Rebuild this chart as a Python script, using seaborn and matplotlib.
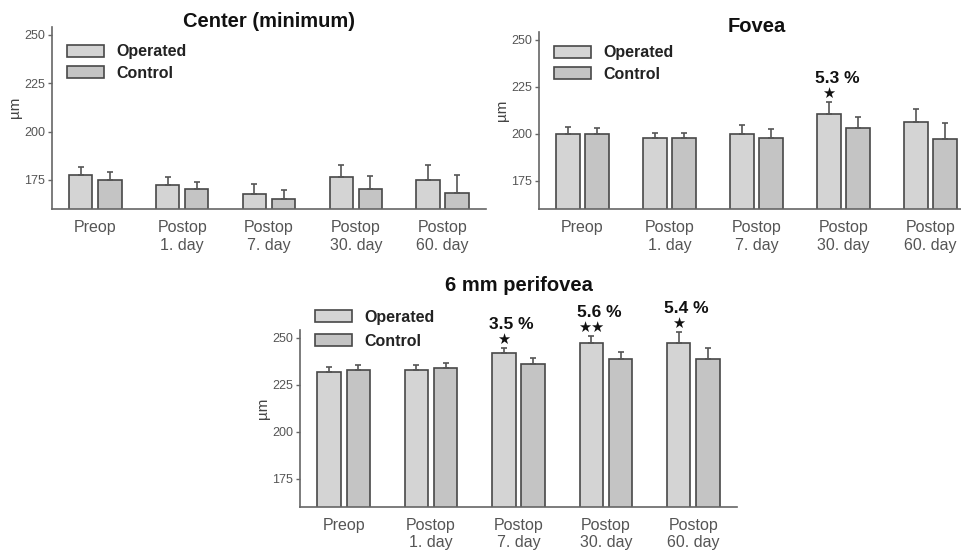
import matplotlib
matplotlib.use("Agg")
import matplotlib.pyplot as plt
import numpy as np
import pandas as pd
import seaborn as sns

# time points
categories = ["Preop", "Postop\n1. day", "Postop\n7. day", "Postop\n30. day", "Postop\n60. day"]
groups = ["Operated", "Control"]

# Center (minimum)
center_op = [177.5, 172.5, 168.0, 176.5, 175.0]
center_op_err = [4.0, 4.0, 5.0, 6.5, 8.0]
center_ctrl = [175.0, 170.5, 165.0, 170.5, 168.5]
center_ctrl_err = [4.0, 3.5, 5.0, 6.5, 9.0]

# Fovea
fovea_op = [200.0, 197.5, 200.0, 210.5, 206.0]
fovea_op_err = [3.5, 3.0, 4.5, 6.5, 7.0]
fovea_ctrl = [200.0, 197.5, 197.5, 203.0, 197.0]
fovea_ctrl_err = [3.0, 3.0, 5.0, 6.0, 8.5]

# 6 mm perifovea
peri_op = [231.5, 233.0, 242.0, 247.0, 247.0]
peri_op_err = [3.0, 2.5, 2.5, 4.0, 6.0]
peri_ctrl = [233.0, 234.0, 236.0, 238.5, 238.5]
peri_ctrl_err = [2.5, 2.5, 3.0, 4.0, 6.0]

# significance marks: (category index, stars, percent text)
fovea_marks = [(3, "★", "5.3 %")]
peri_marks = [(2, "★", "3.5 %"), (3, "★★", "5.6 %"), (4, "★", "5.4 %")]

sns.set_theme(style="white")
plt.rcParams["font.family"] = ["Liberation Sans", "DejaVu Sans"]

bar_colors = ["#d4d4d4", "#c4c4c4"]
axis_gray = "#666666"


def draw_panel(ax, title, op, op_err, ctrl, ctrl_err, marks, legend_y, title_y,
               spacing):
    df = pd.DataFrame({
        "time": categories * 2,
        "group": [groups[0]] * 5 + [groups[1]] * 5,
        "value": op + ctrl,
    })
    sns.barplot(data=df, x="time", y="value", hue="group", order=categories,
                hue_order=groups, palette=bar_colors, width=0.67, gap=0.2,
                edgecolor="#484848", linewidth=1.2, errorbar=None, ax=ax)
    for cont, err in zip(ax.containers, [op_err, ctrl_err]):
        xs = [p.get_x() + p.get_width() / 2 for p in cont.patches]
        ys = [p.get_height() for p in cont.patches]
        ax.errorbar(xs, ys, yerr=[np.zeros(len(err)), err], fmt="none",
                    ecolor="#555555", elinewidth=1.2, capsize=2, capthick=1.2,
                    zorder=1)
    op_bars = ax.containers[0].patches
    for idx, stars, pct in marks:
        p = op_bars[idx]
        xc = p.get_x() + p.get_width() / 2
        top = p.get_height() + op_err[idx]
        ax.text(xc, top + 4.6, stars, ha="center", va="center", fontsize=10.5,
                family="DejaVu Sans", color="#111111", clip_on=False)
        ax.text(xc + 0.09, top + 12.5, pct, ha="center", va="center",
                fontsize=12.5, fontweight="bold", color="#111111", clip_on=False)

    ax.set_ylim(160, 254)
    ax.set_xlim(-0.5, 4.5)
    ax.set_yticks([175, 200, 225, 250])
    ax.set_xlabel("")
    ax.set_ylabel("µm", fontsize=11, color="#444444")
    ax.yaxis.set_label_coords(-0.068, 0.56)
    ax.tick_params(axis="y", left=True, length=3, width=1, color=axis_gray,
                   labelsize=9, labelcolor="#555555", pad=2)
    ax.tick_params(axis="x", bottom=False, labelsize=11.5, labelcolor="#555555", pad=2)
    for side in ["top", "right"]:
        ax.spines[side].set_visible(False)
    for side in ["left", "bottom"]:
        ax.spines[side].set_color(axis_gray)
        ax.spines[side].set_linewidth(1.2)
    ax.set_title(title, fontsize=14.5, fontweight="bold", color="#111111", y=title_y)

    handles, labels = ax.get_legend_handles_labels()
    leg = ax.legend(handles, labels, loc="upper left",
                    bbox_to_anchor=(0.035, legend_y), frameon=False,
                    borderpad=0, borderaxespad=0, handlelength=2.3,
                    handleheight=0.75, labelspacing=spacing, handletextpad=0.8,
                    prop={"weight": "bold", "size": 11.5})
    for t in leg.get_texts():
        t.set_color("#222222")


fig = plt.figure(figsize=(9.61, 5.51), dpi=100)
ax1 = fig.add_axes([0.0541, 0.6207, 0.4516, 0.330])
ax2 = fig.add_axes([0.5609, 0.6207, 0.4527, 0.321])
ax3 = fig.add_axes([0.3122, 0.0799, 0.4547, 0.321])

draw_panel(ax1, "Center (minimum)", center_op, center_op_err, center_ctrl,
           center_ctrl_err, [], 0.905, 0.955, 0.4)
draw_panel(ax2, "Fovea", fovea_op, fovea_op_err, fovea_ctrl,
           fovea_ctrl_err, fovea_marks, 0.925, 0.955, 0.4)
draw_panel(ax3, "6 mm perifovea", peri_op, peri_op_err, peri_ctrl,
           peri_ctrl_err, peri_marks, 1.115, 1.175, 0.55)

fig.savefig("out.png", dpi=100)
